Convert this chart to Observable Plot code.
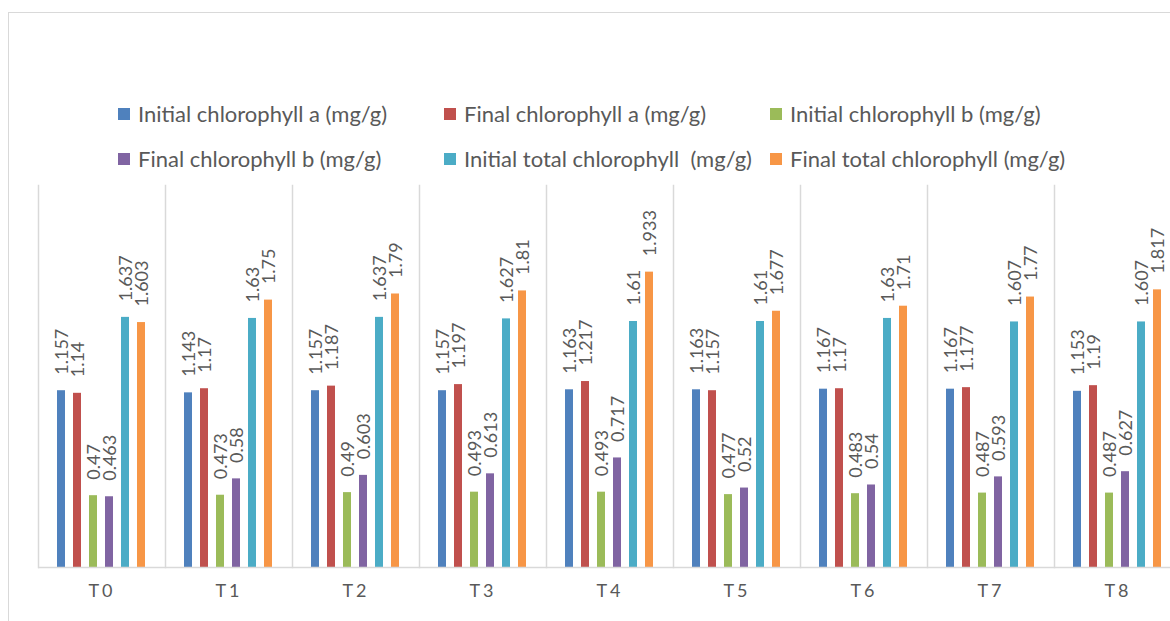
<!DOCTYPE html>
<html>
<head>
<meta charset="utf-8">
<script src="https://cdn.jsdelivr.net/npm/d3@7"></script>
<script src="https://cdn.jsdelivr.net/npm/@observablehq/plot@0.6"></script>
<style>
  html, body { margin: 0; padding: 0; width: 1170px; height: 621px; overflow: hidden; background: #fff; font-family: Lato, "Open Sans", sans-serif; }
  #border { position: absolute; left: 8px; top: 12px; width: 1300px; height: 800px; border: 1.5px solid #d9d9d9; box-sizing: border-box; }
  #chart { position: absolute; left: 0; top: 0; width: 1181px; }
  #chart svg { max-width: none !important; }
  .leg { position: absolute; display: flex; align-items: center; font-size: 22px; color: #595959; white-space: pre; line-height: 1; }
  .sw { width: 12px; height: 12px; margin-right: 8px; flex: none; }
</style>
</head>
<body>
<div id="border"></div>
<div id="chart"></div>
<div id="legend"></div>
<script>
const categories = ["T0", "T1", "T2", "T3", "T4", "T5", "T6", "T7", "T8"];
const seriesNames = [
  "Initial chlorophyll a (mg/g)",
  "Final chlorophyll a (mg/g)",
  "Initial chlorophyll b (mg/g)",
  "Final chlorophyll b (mg/g)",
  "Initial total chlorophyll  (mg/g)",
  "Final total chlorophyll (mg/g)"
];
const seriesColors = ["#4F81BD", "#C0504D", "#9BBB59", "#8064A2", "#4BACC6", "#F79646"];
const initialA = [1.157, 1.143, 1.157, 1.157, 1.163, 1.163, 1.167, 1.167, 1.153];
const finalA   = [1.14, 1.17, 1.187, 1.197, 1.217, 1.157, 1.17, 1.177, 1.19];
const initialB = [0.47, 0.473, 0.49, 0.493, 0.493, 0.477, 0.483, 0.487, 0.487];
const finalB   = [0.463, 0.58, 0.603, 0.613, 0.717, 0.52, 0.54, 0.593, 0.627];
const initialT = [1.637, 1.63, 1.637, 1.627, 1.61, 1.61, 1.63, 1.607, 1.607];
const finalT   = [1.603, 1.75, 1.79, 1.81, 1.933, 1.677, 1.71, 1.77, 1.817];

const seriesValues = [initialA, finalA, initialB, finalB, initialT, finalT];
const data = [];
categories.forEach((c, i) => {
  seriesNames.forEach((s, j) => {
    data.push({category: c, series: s, value: seriesValues[j][i]});
  });
});

const plot = Plot.plot({
  width: 1181,
  height: 621,
  marginTop: 185,
  marginBottom: 54,
  marginLeft: 37,
  marginRight: 0,
  style: {fontFamily: "Lato, 'Open Sans', sans-serif", background: "transparent", overflow: "visible", maxWidth: "none"},
  fx: {domain: categories, padding: 0, label: null},
  x: {domain: seriesNames, paddingInner: 0.47, paddingOuter: 1.2, axis: null},
  y: {domain: [0, 2.5], axis: null},
  color: {domain: seriesNames, range: seriesColors},
  marks: [
    Plot.frame({anchor: "left", stroke: "#d9d9d9", strokeWidth: 1.5}),
    Plot.barY(data, {fx: "category", x: "series", y: "value", fill: "series"}),
    Plot.ruleY([0], {stroke: "#d9d9d9", strokeWidth: 1.5}),
    Plot.text(data, {
      fx: "category", x: "series", y: "value",
      text: d => String(d.value),
      rotate: -90, textAnchor: "start", lineAnchor: "middle",
      dy: -16, dx: 1, fill: "#595959", fontSize: 18
    }),
    Plot.axisFx({anchor: "bottom", tickSize: 0, tickPadding: 17, fontSize: 18, fill: "#595959", label: null,
      tickFormat: d => d})
  ]
});
plot.style.maxWidth = "none";
document.getElementById("chart").appendChild(plot);
d3.select(plot).selectAll("g[aria-label='fx-axis tick label'] text").style("letter-spacing", "3px");

const legendPos = [[118, 114], [444, 114], [770, 114], [118, 159], [444, 159], [770, 159]];
const legend = document.getElementById("legend");
seriesNames.forEach((s, j) => {
  const item = document.createElement("div");
  item.className = "leg";
  item.style.left = legendPos[j][0] + "px";
  item.style.top = (legendPos[j][1] - 12) + "px";
  item.style.height = "24px";
  const sw = document.createElement("span");
  sw.className = "sw";
  sw.style.background = seriesColors[j];
  const t = document.createElement("span");
  t.textContent = s;
  item.appendChild(sw);
  item.appendChild(t);
  legend.appendChild(item);
});
</script>
</body>
</html>
